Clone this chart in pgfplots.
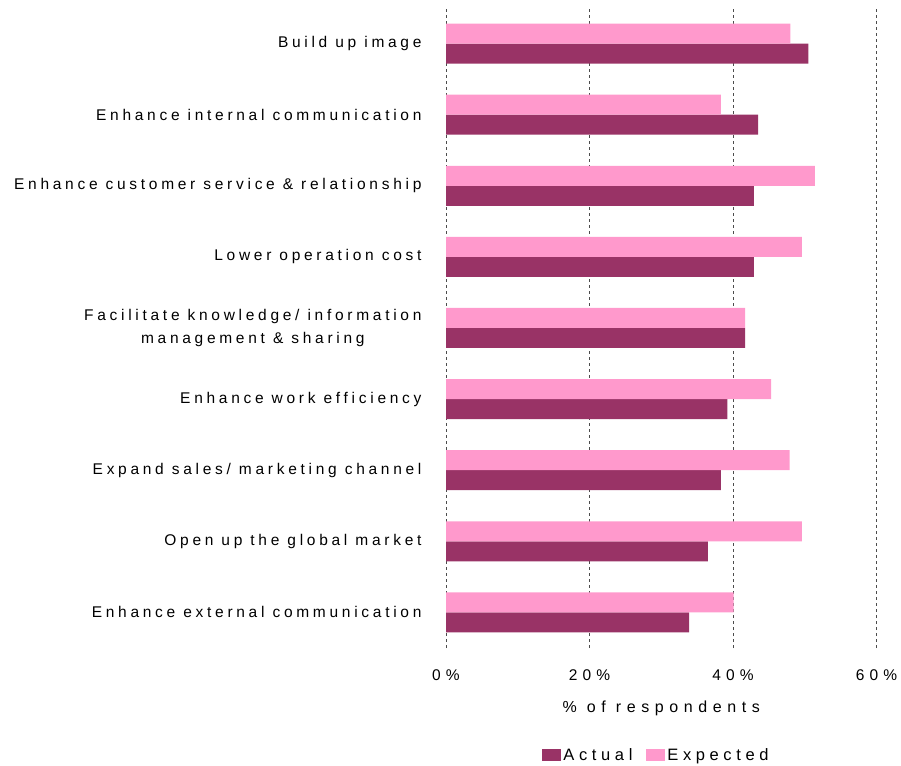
\documentclass[border=0pt]{standalone}
\usepackage{pgfplots}
\pgfplotsset{compat=1.18}
\usepackage{fontspec}
\setmainfont{Liberation Sans}
\newfontfamily\ylabfont{Liberation Sans}[LetterSpace=24]
\newfontfamily\tickfont{Liberation Sans}[LetterSpace=33]
\newfontfamily\xlabfont{Liberation Sans}[LetterSpace=35]
\newfontfamily\legfont{Liberation Sans}[LetterSpace=28]
\definecolor{actual}{HTML}{993366}
\definecolor{expected}{HTML}{FF99CC}
\begin{document}
\begin{tikzpicture}
\path[use as bounding box] (0,0) rectangle (901pt,765pt);
\begin{axis}[
  at={(446pt,117pt)}, anchor=south west,
  width=430.5pt, height=640pt, scale only axis,
  xbar, bar width=20pt,
  xmin=0, xmax=60, ymin=-0.5, ymax=8.5,
  xtick={0,20,40,60}, xticklabels={0\%,20\%,40\%,60\%},
  ytick={0,1,2,3,4,5,6,7,8},
  yticklabels={Enhance external communication, Open up the global market, Expand sales/ marketing channel, Enhance work efficiency, {Facilitate knowledge/ information\\management \& sharing}, Lower operation cost, {Enhance customer service \& relationship}, Enhance internal communication, Build up image},
  xmajorgrids,
  major grid style={black!70, dash pattern=on 3pt off 3pt, line width=1pt},
  axis line style={draw=none}, major tick length=0pt,
  yticklabel style={font=\fontsize{15.5}{23}\selectfont\ylabfont, align=center, xshift=-21pt},
  xticklabel style={font=\fontsize{15.5}{18}\selectfont\tickfont, yshift=-18pt},
  xlabel={\% of respondents},
  xlabel style={font=\fontsize{16}{19}\selectfont\xlabfont, at={(axis description cs:0.5,-0.094)}, anchor=center},
  legend style={at={(axis description cs:0.489,-0.167)}, anchor=center, draw=none, legend columns=2,
    font=\fontsize{16.5}{20}\selectfont\legfont,
    /tikz/every even column/.append style={column sep=12pt}},
  legend image code/.code={\fill[#1] (0pt,-6pt) rectangle (19pt,6pt);},
]
\addplot[fill=actual, draw=none, bar shift=-10pt] coordinates {
  (33.9,0) (36.5,1) (38.3,2) (39.2,3) (41.7,4) (42.9,5) (42.9,6) (43.5,7) (50.5,8)};
\addplot[fill=expected, draw=none, bar shift=10pt] coordinates {
  (40.1,0) (49.6,1) (47.9,2) (45.3,3) (41.7,4) (49.6,5) (51.4,6) (38.3,7) (48.0,8)};
\legend{Actual, Expected}
\end{axis}
\end{tikzpicture}
\end{document}
